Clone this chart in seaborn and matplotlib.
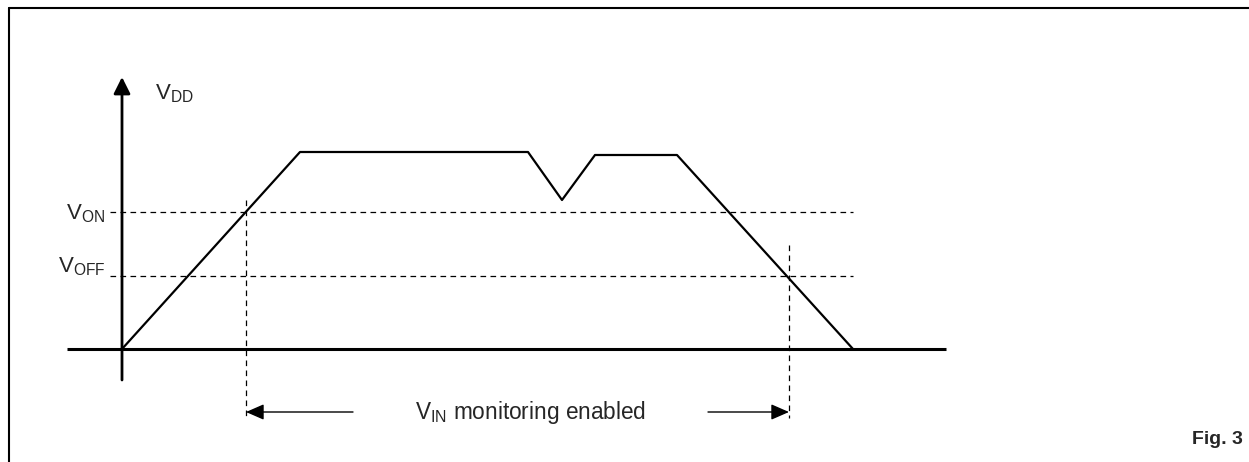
import matplotlib
matplotlib.use("Agg")
import matplotlib.pyplot as plt
import seaborn as sns
import pandas as pd
from matplotlib.lines import Line2D

# Curva VDD (unidades arbitrarias, 1 u = 10 px)
t_vdd = [0.0, 17.8, 40.6, 44.0, 47.3, 55.5, 73.1]
v_vdd = [0.0, 19.7, 19.7, 14.9, 19.4, 19.4, 0.0]

# Umbrales
umbral_nombres = ["ON", "OFF"]
umbral_valores = [13.7, 7.3]

# Cruces de la curva con los umbrales (inicio / fin de la monitorizacion)
t_on = 12.4
t_off = 66.7

texto_vdd = r"$\mathregular{V_{DD}}$"
texto_monitor = r"$\mathregular{V_{IN}}$ monitoring enabled"
texto_fig = "Fig. 3"

#Estilo
sns.set_style("white")
plt.rcParams["font.family"] = ["Liberation Sans", "DejaVu Sans"]
plt.rcParams["mathtext.fontset"] = "custom"
plt.rcParams["mathtext.rm"] = "Liberation Sans"

fig = plt.figure(figsize=(12.49, 4.62), dpi=100)
ax = fig.add_axes([0, 0, 1, 1])

#Marco (solo arriba e izquierda)
fig.add_artist(Line2D([9 / 1249, 1.0], [1 - 8 / 462, 1 - 8 / 462], color="black", lw=1.5))
fig.add_artist(Line2D([9 / 1249, 9 / 1249], [0.0, 1 - 8 / 462], color="black", lw=1.5))

#Curva VDD
df = pd.DataFrame({"t": t_vdd, "v": v_vdd})
sns.lineplot(data=df, x="t", y="v", sort=False, color="black", lw=1.6, ax=ax, legend=False)
ax.set_xlim(-12.2, 112.7)
ax.set_ylim(-11.3, 34.9)
ax.set_axis_off()

#Ejes
ax.plot([-5.5, 82.4], [0, 0], color="black", lw=2.2, solid_capstyle="butt")
ax.annotate("", xy=(0, 27.2), xytext=(0, -3.1),
            arrowprops=dict(arrowstyle="-|>,head_length=1.0,head_width=0.5",
                            color="black", lw=2.0, shrinkA=0, shrinkB=0))
ax.text(3.3, 25.0, texto_vdd, fontsize=16, ha="left", va="baseline")

#Umbrales punteados
for nombre, valor in zip(umbral_nombres, umbral_valores):
    ax.plot([-1.2, 73.1], [valor, valor], color="black", lw=0.9, linestyle=(0, (4.5, 3.5)))
desfase = {"ON": -0.75, "OFF": 0.35}
for nombre, valor in zip(umbral_nombres, umbral_valores):
    ax.text(-1.7, valor + desfase[nombre], r"$\mathregular{V_{%s}}$" % nombre,
            fontsize=16, ha="right", va="baseline")

#Lineas verticales de cruce
ax.plot([t_on, t_on], [14.9, -6.9], color="black", lw=0.9, linestyle=(0, (4.5, 3.5)))
ax.plot([t_off, t_off], [10.4, -6.9], color="black", lw=0.9, linestyle=(0, (4.5, 3.5)))

#Flechas de monitorizacion
y_flecha = -6.3
estilo = dict(arrowstyle="-|>,head_length=1.1,head_width=0.48", color="black", lw=1.0,
              shrinkA=0, shrinkB=0)
ax.annotate("", xy=(t_on, y_flecha), xytext=(23.1, y_flecha), arrowprops=estilo)
ax.annotate("", xy=(t_off, y_flecha), xytext=(58.6, y_flecha), arrowprops=estilo)
ax.text(40.9, y_flecha, texto_monitor, fontsize=16.3, ha="center", va="center")

fig.text(1243 / 1249, 18 / 462, texto_fig, fontsize=14, fontweight="bold",
         ha="right", va="baseline")

plt.savefig("out.png", dpi=100)
plt.close()
